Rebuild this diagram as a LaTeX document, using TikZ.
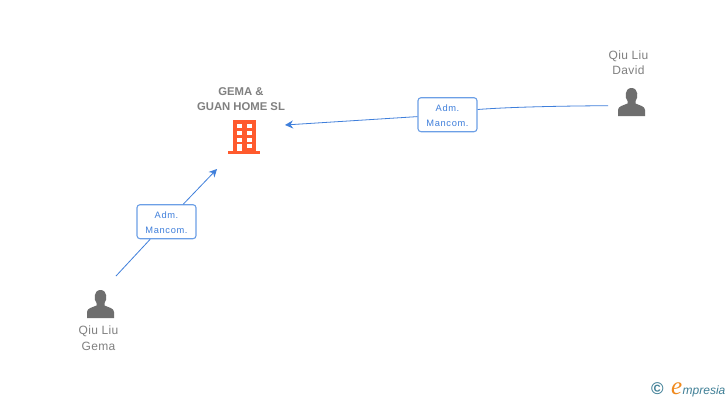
\documentclass[tikz,border=0pt]{standalone}
\usepackage{fontspec}
\setmainfont{Liberation Sans}
\newfontfamily\spaced[LetterSpace=3]{Liberation Sans}
\newfontfamily\admfont[LetterSpace=7]{Liberation Sans}
\newfontfamily\logoserif{Liberation Serif}
\usetikzlibrary{arrows.meta}
\definecolor{linkblue}{HTML}{3F7FDB}
\definecolor{boxblue}{HTML}{6C9FE6}
\definecolor{iconorange}{HTML}{FF5A2D}
\definecolor{persongrey}{HTML}{6E6E6E}
\definecolor{textgrey}{HTML}{808080}
\definecolor{logoteal}{HTML}{3F7F96}
\definecolor{logoorange}{HTML}{F08A1E}
\newcommand{\personicon}[2]{%
  \fill[persongrey,shift={(#1,#2)}]
    (-13.5,14) -- (-13.5,8) .. controls (-13.5,4) and (-8,3.5) .. (-4,1.5)
    -- (-4,-1) .. controls (-7,-4) and (-7,-14) .. (0,-14)
    .. controls (7,-14) and (7,-4) .. (4,-1) -- (4,1.5)
    .. controls (8,3.5) and (13.5,4) .. (13.5,8) -- (13.5,14) -- cycle;}
\tikzset{
  x=1pt,y=-1pt,
  adm/.style={draw=boxblue,line width=1.1pt,rounded corners=3pt,fill=white,
    minimum width=59pt,minimum height=34pt,inner sep=0pt,align=center,
    text=linkblue,font=\admfont\fontsize{9.3}{15.2}\selectfont},
  link/.style={draw=linkblue,line width=0.8pt},
  linkend/.style={link,-{Stealth[length=8pt,width=8pt]}},
  persontext/.style={text=textgrey,align=center,inner sep=0pt,font=\spaced\fontsize{12}{15.5}\selectfont},
  cotext/.style={text=textgrey,align=center,inner sep=0pt,font=\bfseries\fontsize{11.3}{15.5}\selectfont},
  logotext/.style={inner sep=0pt,anchor=base west}
}
\begin{document}
\begin{tikzpicture}
\useasboundingbox (0,0) rectangle (728,400);
\fill[white] (0,0) rectangle (728,400);
% free connector ends
\coordinate (davidend) at (608,105.7);
\coordinate (gemaend) at (116,276);
\coordinate (coright) at (285,125);
\coordinate (cobottom) at (217,169);
% role boxes
\node[adm] (adm1) at (447.5,114.7) {\rule{0pt}{8.7pt}Adm.\\Mancom.};
\node[adm] (adm2) at (166.5,221.7) {\rule{0pt}{8.7pt}Adm.\\Mancom.};
% connectors
\draw[link] (davidend) .. controls (560,106) and (510,107) .. ([yshift=5.2pt]adm1.east);
\draw[linkend] (adm1) -- (coright);
\draw[link] (gemaend) -- (adm2);
\draw[linkend] (adm2) -- (cobottom);
% company
\node[cotext] (coname) at (241,99) {GEMA \&\\GUAN HOME SL};
\fill[iconorange] (233,120) rectangle (255.5,151);
\fill[iconorange] (228,151) rectangle (260,153.5);
\foreach \yy in {124,131,138}{
  \fill[white] (237,\yy) rectangle (242,\yy+4);
  \fill[white] (246.5,\yy) rectangle (251.5,\yy+4);
}
\fill[white] (237,144) rectangle (242,151);
\fill[white] (246.5,144) rectangle (251.5,148);
% people
\personicon{631.5}{102}
\node[persontext] (david) at (628.5,62.5) {Qiu Liu\\David};
\personicon{100.5}{304}
\node[persontext] (gema) at (98.5,338) {Qiu Liu\\Gema};
% logo
\node[text=logoteal,inner sep=0pt,font=\bfseries\fontsize{17}{17}\selectfont] (copy) at (657.5,389) {©};
\node[logotext,text=logoorange,font=\logoserif\itshape\fontsize{25}{25}\selectfont] (logoe) at (671,394) {e};
\node[logotext,text=logoteal,font=\itshape\fontsize{12}{14}\selectfont] (logorest) at (682.5,394) {mpresia};
\end{tikzpicture}
\end{document}
